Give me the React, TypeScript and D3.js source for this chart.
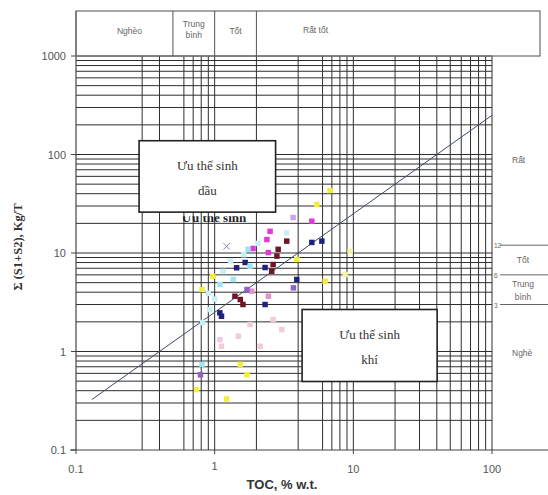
import React from "react";
import * as d3 from "d3";

// Axis extents and ticks
const xDomain: [number, number] = [0.1, 100];
const yDomain: [number, number] = [0.1, 1000];
const xTickValues = [0.1, 1, 10, 100];
const xTickLabels = ["0.1", "1", "10", "100"];
const yTickValues = [0.1, 1, 10, 100, 1000];
const yTickLabels = ["0.1", "1", "10", "100", "1000"];

// Vertical and horizontal grid positions (data units)
const xGrid = [0.3, 0.4, 0.6, 0.7, 0.8, 0.9, 1, 2, 4, 6, 7, 8, 9, 10, 20, 30, 40, 50, 60, 70, 80, 90, 100];
const yGrid = [0.2, 0.3, 0.4, 0.5, 0.6, 0.7, 0.8, 0.9, 1, 2, 3, 4, 5, 6, 7, 8, 9, 10, 20, 30, 40, 50, 60, 70, 80, 90, 100, 200, 300, 400, 500, 600, 700, 800, 900, 1000];

// TOC classes (top band)
const tocBreaks = [0.5, 1, 2];
const tocClassLabels = ["Nghèo", "Trung bình", "Tốt", "Rất tốt"];

// S1+S2 classes (right band)
const potBreaks = [12, 6, 3];
const potBreakLabels = ["12", "6", "3"];

// Oil / gas dividing line: S1+S2 = 2.5 * TOC
const lineTOC = [0.13, 100];
const lineFactor = 2.5;

// Samples: TOC (% w.t.), S1+S2 (kg/T), group
const sampleTOC = [6.8, 5.45, 5.02, 3.68, 2.51, 2.38, 3.31, 5.93, 5.02, 1.89, 1.22, 1.74, 2.87, 2.81, 2.64, 2.58, 2.31, 2.44, 3.91, 1.66, 1.44, 1.8, 0.97, 6.26, 3.91, 3.7, 1.36, 1.09, 0.81, 1.85, 1.53, 1.6, 1.4, 1.71, 2.31, 1.09, 1.12, 2.44, 2.64, 3.05, 1.8, 1.48, 1.09, 2.13, 1.12, 0.93, 0.82, 1.53, 1.71, 1.22, 0.74, 0.79, 0.81, 9.49, 8.73, 1.0, 1.15, 2.05, 1.3, 3.3, 1.62, 0.9];
const sampleS = [43.1, 31.1, 21.0, 22.9, 16.6, 13.7, 13.2, 13.2, 12.8, 11.1, 11.7, 10.9, 10.9, 9.3, 7.64, 6.53, 7.12, 10.1, 8.59, 8.01, 7.08, 7.35, 5.82, 5.17, 5.38, 4.43, 5.38, 4.79, 4.26, 4.1, 3.37, 3.0, 3.64, 4.26, 3.0, 2.47, 2.28, 3.64, 2.11, 1.67, 1.88, 1.43, 1.32, 1.13, 1.13, 2.67, 1.97, 0.74, 0.58, 0.33, 0.41, 0.58, 0.74, 10.4, 6.05, 3.4, 6.5, 12.5, 8.3, 16.0, 9.6, 3.9];
const sampleGroup = ["yellow", "yellow", "magenta", "lavender", "magenta", "magenta", "maroon", "navy", "navy", "magenta", "purpleX", "cyan", "maroon", "maroon", "maroon", "maroon", "navy", "magenta", "yellow", "navy", "navy", "cyan", "yellow", "yellow", "navy", "purple", "cyan", "cyan", "yellow", "pink", "maroon", "maroon", "maroon", "purple", "navy", "navy", "navy", "pink", "lightpink", "lightpink", "lightpink", "lightpink", "lightpink", "lightpink", "lightpink", "lightcyan", "lightcyan", "yellow", "yellow", "yellow", "yellow", "purple", "cyan", "paleyellow", "paleyellow", "lightcyan", "lightcyan", "lightcyan", "lightcyan", "lightcyan", "lightcyan", "lightcyan"];

const groupColor: Record<string, string> = {
  yellow: "#f2ee3c",
  paleyellow: "#f4f2a8",
  magenta: "#e03ad8",
  lavender: "#c9a2f2",
  maroon: "#6e1424",
  navy: "#22227e",
  cyan: "#9fe4f2",
  lightcyan: "#c6eff6",
  pink: "#e890c8",
  lightpink: "#f2cade",
  purple: "#8f62c4",
  purpleX: "#b070c0",
};

// Annotation boxes (data units)
const oilBox = { x0: 0.285, x1: 2.75, y0: 26, y1: 138, lines: ["Ưu thế sinh", "dầu"] };
const gasBox = { x0: 4.27, x1: 40.2, y0: 0.496, y1: 2.67, lines: ["Ưu thế sinh", "khí"] };

const W = 548;
const H = 495;

export default function App() {
  const x = d3.scaleLog().domain(xDomain).range([76, 492]);
  const y = d3.scaleLog().domain(yDomain).range([450, 56]);
  const left = x(xDomain[0]);
  const right = x(xDomain[1]);
  const top = y(yDomain[1]);
  const bottom = y(yDomain[0]);

  const gridColor = "#2e2e2e";
  const labelFill = "#555";
  const sans = "'Liberation Sans', Arial, sans-serif";
  const serif = "'Liberation Serif', 'Times New Roman', serif";

  const linePath = d3.line<number>()
    .x((t) => x(t))
    .y((t) => y(t * lineFactor))(lineTOC) as string;

  const bandTop = 11;
  const bandRight = 540;
  const bandEdges = [left, ...tocBreaks.map((b) => x(b)), bandRight];

  const sq = d3.symbol().type(d3.symbolSquare).size(30)() as string;
  const xs = d3.symbol().type(d3.symbolX).size(30)() as string;

  const oilBottom = y(oilBox.y0);

  const box = (b: typeof oilBox, key: string) => {
    const bx0 = x(b.x0), bx1 = x(b.x1), by0 = y(b.y1), by1 = y(b.y0);
    const cx = (bx0 + bx1) / 2;
    const cy = (by0 + by1) / 2;
    return (
      <g key={key}>
        <rect x={bx0} y={by0} width={bx1 - bx0} height={by1 - by0} fill="#fff" stroke="#222" strokeWidth={1.6} />
        <text x={cx} y={cy - 6} textAnchor="middle" fontFamily={serif} fontSize={13} fill="#333">{b.lines[0]}</text>
        <text x={cx} y={cy + 19} textAnchor="middle" fontFamily={serif} fontSize={13} fill="#333">{b.lines[1]}</text>
      </g>
    );
  };

  return (
    <div style={{ position: "absolute", left: 0, top: 0 }}>
      <svg width={W} height={H} style={{ display: "block", background: "#fff" }}>
        <defs>
          <clipPath id="under-oil">
            <rect x={150} y={oilBottom + 4} width={140} height={10} />
          </clipPath>
        </defs>

        {/* grid */}
        {yGrid.map((v) => (
          <line key={"h" + v} x1={left} x2={right} y1={y(v)} y2={y(v)} stroke={gridColor} strokeWidth={1} />
        ))}
        {xGrid.map((v) => (
          <line key={"v" + v} x1={x(v)} x2={x(v)} y1={top} y2={bottom} stroke={gridColor} strokeWidth={1} />
        ))}

        {/* axes */}
        <line x1={left} x2={left} y1={bandTop} y2={bottom} stroke="#444" strokeWidth={1.2} />
        <line x1={left - 6} x2={W} y1={bottom} y2={bottom} stroke="#444" strokeWidth={1.2} />
        {yTickValues.map((v, i) => (
          <g key={"yt" + v}>
            <line x1={left - 5} x2={left} y1={y(v)} y2={y(v)} stroke="#444" />
            <text x={left - 10} y={y(v) + 4} textAnchor="end" fontFamily={sans} fontSize={11} fill={labelFill}>{yTickLabels[i]}</text>
          </g>
        ))}
        {xTickValues.map((v, i) => (
          <g key={"xt" + v}>
            <line x1={x(v)} x2={x(v)} y1={bottom} y2={bottom + 4} stroke="#444" />
            <text x={x(v)} y={bottom + (v === 1 ? 20 : 23)} textAnchor="middle" fontFamily={sans} fontSize={11} fill={labelFill}>{xTickLabels[i]}</text>
          </g>
        ))}
        <text x={282} y={489} textAnchor="middle" fontFamily={sans} fontSize={13} fontWeight="bold" fill="#333">TOC, % w.t.</text>
        <text transform={`translate(22,${247}) rotate(-90)`} textAnchor="middle" fontFamily={serif} fontSize={12.5} fontWeight="bold" fill="#333">Σ (S1+S2), Kg/T</text>

        {/* top TOC class band */}
        <rect x={left} y={bandTop} width={bandRight - left} height={top - bandTop} fill="none" stroke="#777" strokeWidth={1.3} />
        {tocBreaks.map((b) => (
          <line key={"tb" + b} x1={x(b)} x2={x(b)} y1={bandTop} y2={top} stroke="#555" strokeWidth={1} />
        ))}
        {tocClassLabels.slice(0, 3).map((lab, i) => {
          const cx = (bandEdges[i] + bandEdges[i + 1]) / 2;
          if (lab === "Trung bình") {
            return (
              <g key={lab}>
                <text x={cx} y={27} textAnchor="middle" fontFamily={sans} fontSize={8.5} fill="#666">Trung</text>
                <text x={cx} y={38} textAnchor="middle" fontFamily={sans} fontSize={8.5} fill="#666">bình</text>
              </g>
            );
          }
          return (
            <text key={lab} x={cx + (i === 0 ? 5 : 0)} y={34} textAnchor="middle" fontFamily={sans} fontSize={8.5} fill="#666">{lab}</text>
          );
        })}
        <text x={303} y={33} fontFamily={sans} fontSize={8.5} fill="#666">{tocClassLabels[3]}</text>

        {/* right S1+S2 class band */}
        {potBreaks.map((b, i) => (
          <g key={"pb" + b}>
            <line x1={500} x2={W} y1={y(b)} y2={y(b)} stroke="#666" strokeWidth={1} />
            <text x={494} y={y(b) + 3} fontFamily={sans} fontSize={6.5} fill="#666">{potBreakLabels[i]}</text>
          </g>
        ))}
        <text x={512} y={163} fontFamily={sans} fontSize={8.5} fill="#666">Rất</text>
        <text x={523} y={y(Math.sqrt(potBreaks[0] * potBreaks[1])) + 3} textAnchor="middle" fontFamily={sans} fontSize={8.5} fill="#666">Tốt</text>
        <text x={523} y={287} textAnchor="middle" fontFamily={sans} fontSize={8.5} fill="#666">Trung</text>
        <text x={523} y={300} textAnchor="middle" fontFamily={sans} fontSize={8.5} fill="#666">bình</text>
        <text x={512} y={356} fontFamily={sans} fontSize={8.5} fill="#666">Nghè</text>

        {/* dividing line */}
        <path d={linePath} fill="none" stroke="#3c4a66" strokeWidth={1} />

        {/* samples */}
        {sampleTOC.map((t, i) => {
          const g = sampleGroup[i];
          const isX = g === "purpleX";
          return (
            <path
              key={"p" + i}
              d={isX ? xs : sq}
              transform={`translate(${x(t)},${y(sampleS[i])})`}
              fill={groupColor[g]}
              stroke={isX ? groupColor[g] : "none"}
              strokeWidth={isX ? 1 : 0}
            />
          );
        })}

        {/* partly hidden label under the oil box */}
        <text x={214} y={oilBottom + 10} textAnchor="middle" fontFamily={serif} fontSize={13} fontWeight="bold" fill="#222" clipPath="url(#under-oil)">Ưu thế sinh</text>

        {/* annotation boxes */}
        {box(oilBox, "oil")}
        {box(gasBox, "gas")}
      </svg>
    </div>
  );
}
